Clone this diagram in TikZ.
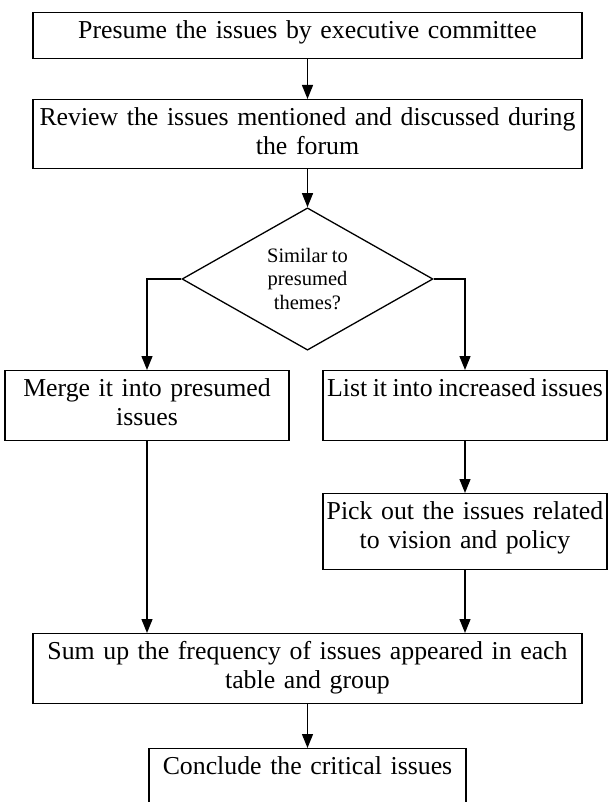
\documentclass[tikz,border=0pt]{standalone}
\usepackage{fontspec}
\setmainfont{Liberation Serif}
\usetikzlibrary{arrows.meta, shapes.geometric}
\hyphenpenalty=10000
\newcommand{\boxfont}{\fontsize{25.8}{29}\selectfont\spaceskip=5.5pt\relax\xspaceskip=5.5pt\relax}
\newcommand{\decfont}{\fontsize{20.5}{23.5}\selectfont\spaceskip=4.5pt\relax\xspaceskip=4.5pt\relax}

\begin{document}
\begin{tikzpicture}[
  x=1pt, y=-1pt,
  stepbox/.style={rectangle, draw, line width=1.3pt, inner xsep=0pt, inner ysep=0pt, text height=26pt, font=\boxfont, align=center, anchor=north},
  decision/.style={diamond, draw, line width=1.3pt, inner sep=0pt, minimum width=251pt, minimum height=142pt, font=\decfont, align=center},
  arr/.style={-{Triangle[length=14pt,width=11pt]}, line width=1.3pt},
]
\useasboundingbox (0,0) rectangle (608,802);
\clip (0,0) rectangle (608,802);

% Top steps
\node[stepbox, text width=549pt, text depth=20pt] (presume) at (307.5, 12) {Presume the issues by executive committee};
\node[stepbox, text width=549pt, text depth=43pt] (review) at (307.5, 99) {Review the issues mentioned and discussed during\\the forum};

% Decision
\node[decision] (similar) at (307.5, 279) {Similar to\\presumed\\themes?};

% Two branches
\node[stepbox, text width=284pt, text depth=44pt] (merge) at (147, 370) {Merge it into presumed\\issues};
\node[stepbox, minimum width=284pt, text depth=44pt] (listinc) at (465, 370) {List it into increased issues};
\node[stepbox, text width=284pt, text depth=50pt] (pick) at (465, 493) {Pick out the issues related\\to vision and policy};

% Bottom steps
\node[stepbox, text width=549pt, text depth=44pt] (sumup) at (307.5, 633) {Sum up the frequency of issues appeared in each\\table and group};
\node[stepbox, text width=317pt, text depth=80pt] (conclude) at (307.5, 748) {Conclude the critical issues};

% Arrows
\draw[arr] (presume) -- (review);
\draw[arr] (review) -- (similar);
\draw[arr] (similar.west) -| (merge.north);
\draw[arr] (similar.east) -| (listinc.north);
\draw[arr] (listinc) -- (pick);
\draw[arr] (merge.south) -- (merge.south |- sumup.north);
\draw[arr] (pick.south) -- (pick.south |- sumup.north);
\draw[arr] (sumup) -- (conclude);

\end{tikzpicture}
\end{document}
